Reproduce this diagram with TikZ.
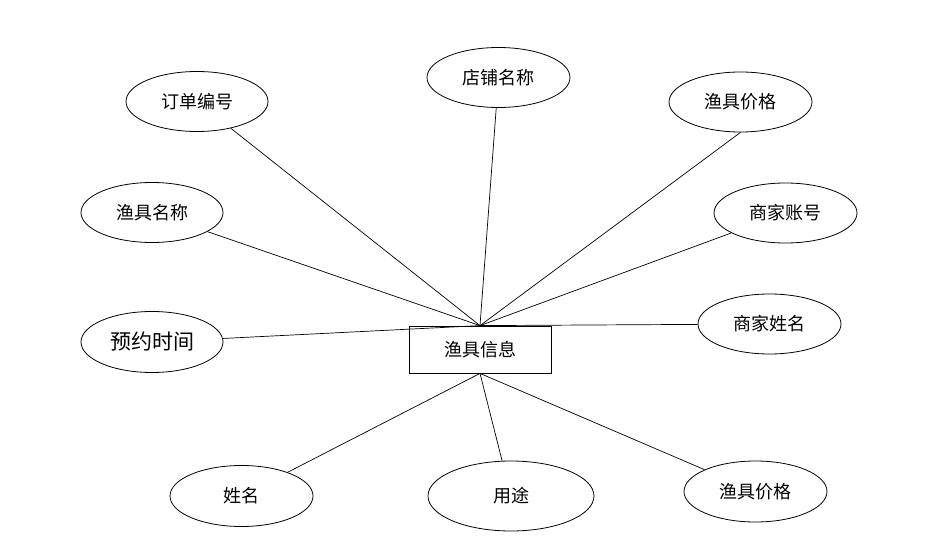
\documentclass[tikz,border=0pt]{standalone}
\usepackage{fontspec}
\setmainfont{Noto Sans CJK SC}
\usetikzlibrary{shapes.geometric}
\begin{document}
\begin{tikzpicture}[x=1pt,y=-1pt,
  attr/.style={draw, ellipse, line width=0.8pt, inner sep=0pt, minimum width=142pt, minimum height=60pt, font=\fontsize{18}{20}\selectfont},
  ent/.style={draw, rectangle, line width=0.8pt, minimum width=142pt, minimum height=47pt, inner sep=0pt, font=\fontsize{18}{20}\selectfont},
  conn/.style={line width=0.7pt}]
\useasboundingbox (0,0) rectangle (937,556);
\node[ent] (e) at (480,349.5) {渔具信息};
\node[attr] (a1) at (197,101.5) {订单编号};
\node[attr, minimum width=143pt] (a2) at (498.5,77.5) {店铺名称};
\node[attr, minimum width=143pt] (a3) at (740.5,102) {渔具价格};
\node[attr] (a4) at (152,212.5) {渔具名称};
\node[attr, minimum width=143pt] (a5) at (785.5,213) {商家账号};
\node[attr, minimum height=61pt, font=\fontsize{21}{23}\selectfont] (a6) at (152,342) {预约时间};
\node[attr, minimum width=143pt] (a7) at (769.5,324) {商家姓名};
\node[attr, minimum width=143pt, minimum height=61pt] (a8) at (241.5,496) {姓名};
\node[attr, minimum width=166pt, minimum height=70pt] (a9) at (511,496) {用途};
\node[attr, minimum width=143pt, minimum height=61pt] (a10) at (755.5,491.5) {渔具价格};
\foreach \n in {a1,a2,a4,a5,a6,a7}{\draw[conn] (e.north) -- (\n);}
\draw[conn] (e.north) -- (a3.south);
\foreach \n in {a8,a9,a10}{\draw[conn] (e.south) -- (\n);}
\end{tikzpicture}
\end{document}
